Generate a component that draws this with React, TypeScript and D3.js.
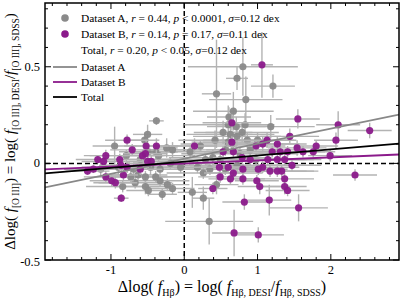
import * as d3 from 'd3'

// Dataset A (gray)
const aX = [0.80, 0.72, 1.21, 0.44, 0.84, 0.67, -0.38, -0.50, -0.54, -0.95, -0.24, 0.60, 0.53, 0.79, 0.72, 1.18, 0.65, 0.86, 0.08, 0.22, 0.29, 0.39, 0.72, 0.26, 0.11, 0.26, 0.34, 0.44, -0.79, -0.73, -0.63, -0.53, -0.39, -0.33, -0.23, -0.84, -0.67, -0.53, -0.49, -0.46, -0.33, -0.35, -0.39, -0.49, -0.05, -0.19, -0.60, -1.14, 0.56, 0.42, 0.90, 0.98, 0.49, 0.76, 0.60, 0.83, 0.61, 1.00, 0.18, 0.35, 0.56, -0.16, -0.69, -0.90, -0.30, -0.16, 0.63, 0.71]
const aY = [0.50, 0.44, 0.40, 0.36, 0.33, 0.27, 0.22, 0.15, 0.12, 0.09, 0.08, 0.20, 0.16, 0.16, 0.14, 0.19, 0.10, 0.12, 0.06, 0.09, 0.02, 0.03, -0.01, -0.05, -0.15, -0.18, -0.30, -0.11, 0.04, -0.07, -0.06, -0.07, -0.07, -0.09, -0.11, -0.12, -0.10, -0.12, -0.14, -0.02, -0.03, 0.04, 0.06, 0.06, -0.02, 0.00, 0.02, -0.03, 0.07, 0.12, 0.07, 0.02, 0.02, 0.05, 0.11, 0.20, 0.24, 0.12, -0.02, -0.03, -0.03, 0.07, -0.03, -0.02, -0.16, -0.13, 0.15, 0.19]
const aXerr = [0.75, 0.15, 0.30, 0.20, 0.50, 0.55, 0.10, 0.20, 0.20, 0.30, 0.15, 0.60, 0.40, 0.50, 0.60, 0.60, 0.70, 0.60, 0.80, 0.50, 0.80, 0.60, 0.90, 0.50, 0.20, 0.15, 0.60, 0.30, 0.50, 0.50, 0.40, 0.50, 0.40, 0.40, 0.30, 0.50, 0.50, 0.40, 0.30, 0.40, 0.50, 0.50, 0.30, 0.40, 0.60, 0.60, 0.60, 0.50, 0.70, 0.50, 0.60, 0.70, 0.80, 0.80, 0.50, 0.40, 0.30, 0.50, 0.80, 0.70, 0.70, 0.40, 0.40, 0.50, 0.20, 0.30, 0.60, 0.40]
const aYerr = [0.15, 0.06, 0.06, 0.28, 0.12, 0.10, 0.02, 0.05, 0.04, 0.10, 0.05, 0.10, 0.06, 0.05, 0.05, 0.06, 0.04, 0.04, 0.03, 0.03, 0.03, 0.04, 0.04, 0.03, 0.08, 0.06, 0.12, 0.05, 0.03, 0.03, 0.03, 0.03, 0.03, 0.03, 0.03, 0.03, 0.03, 0.04, 0.03, 0.04, 0.03, 0.03, 0.04, 0.03, 0.03, 0.03, 0.03, 0.04, 0.03, 0.05, 0.03, 0.03, 0.03, 0.03, 0.04, 0.06, 0.05, 0.04, 0.03, 0.03, 0.03, 0.04, 0.03, 0.04, 0.03, 0.03, 0.04, 0.05]

// Dataset B (purple)
const bX = [1.06, 1.55, 2.10, 2.53, 2.07, -0.78, -0.38, 0.65, 1.44, 1.13, 1.27, 1.07, 1.54, 1.80, 0.14, -0.71, -1.32, -1.18, -1.07, -1.10, -1.07, -0.99, -0.94, -0.86, -1.24, -0.88, -0.86, -0.78, -0.57, -0.53, -0.50, -0.45, -0.60, -0.83, -0.52, 2.33, 1.99, 1.76, 1.62, 1.31, 1.41, 1.14, 1.27, 1.37, 1.07, 1.17, 1.27, 1.33, 1.37, 1.37, 1.41, 1.16, 1.56, 0.53, 0.67, 0.79, 0.90, 0.48, 0.60, 0.80, 0.67, 1.01, 0.49, 0.63, 0.80, 0.99, 0.39, 1.03, 0.82, 0.68, 1.01, 1.20, 0.98, 0.65, 1.47]
const bY = [0.51, 0.23, 0.20, 0.17, 0.12, 0.12, 0.09, 0.21, 0.14, 0.12, 0.10, 0.10, 0.08, 0.09, 0.09, 0.07, -0.04, 0.02, 0.04, 0.01, -0.07, -0.09, -0.10, -0.18, -0.03, 0.02, -0.01, -0.02, 0.04, 0.05, 0.01, 0.01, -0.03, -0.06, 0.09, -0.06, 0.04, 0.06, 0.06, 0.06, 0.06, 0.02, 0.02, 0.02, -0.02, -0.04, -0.04, -0.04, -0.08, -0.12, -0.14, -0.19, -0.23, 0.06, 0.06, 0.03, 0.02, -0.02, -0.02, -0.03, -0.05, -0.03, -0.07, -0.08, -0.08, -0.09, -0.13, -0.12, -0.20, -0.36, -0.37, 0.06, 0.09, 0.11, -0.01]
const bXerr = [0.15, 0.30, 0.30, 0.30, 0.30, 0.30, 0.30, 0.40, 0.40, 0.40, 0.40, 0.50, 0.40, 0.30, 0.30, 0.30, 0.30, 0.30, 0.30, 0.30, 0.30, 0.30, 0.30, 0.10, 0.30, 0.30, 0.30, 0.30, 0.30, 0.30, 0.30, 0.30, 0.30, 0.20, 0.30, 0.30, 0.30, 0.30, 0.30, 0.40, 0.40, 0.50, 0.50, 0.50, 0.50, 0.50, 0.50, 0.50, 0.40, 0.30, 0.30, 0.30, 0.40, 0.40, 0.40, 0.40, 0.40, 0.40, 0.40, 0.40, 0.40, 0.40, 0.30, 0.30, 0.30, 0.30, 0.20, 0.30, 0.30, 0.30, 0.35, 0.40, 0.40, 0.40, 0.40]
const bYerr = [0.17, 0.05, 0.07, 0.04, 0.04, 0.03, 0.04, 0.04, 0.04, 0.04, 0.04, 0.04, 0.04, 0.03, 0.04, 0.03, 0.02, 0.02, 0.03, 0.02, 0.03, 0.03, 0.03, 0.02, 0.02, 0.03, 0.03, 0.03, 0.03, 0.03, 0.03, 0.03, 0.03, 0.03, 0.03, 0.03, 0.03, 0.03, 0.03, 0.03, 0.03, 0.03, 0.03, 0.03, 0.03, 0.03, 0.03, 0.03, 0.03, 0.04, 0.03, 0.08, 0.07, 0.03, 0.03, 0.03, 0.03, 0.03, 0.03, 0.03, 0.03, 0.03, 0.03, 0.03, 0.03, 0.03, 0.03, 0.04, 0.04, 0.12, 0.04, 0.03, 0.03, 0.03, 0.03]

// linear fits: Dataset A, Dataset B, Total
const fitNames = ['Dataset A', 'Dataset B', 'Total']
const fitSlopes = [0.078, 0.016, 0.032]
const fitIntercepts = [0.024, -0.001, 0.009]
const fitColors = ['#888888', '#8b1a8b', '#000000']

const xTicks = [-1, 0, 1, 2]
const yTicks = [-0.5, 0, 0.5]

const W = 404
const H = 301
const margin = { top: 3, right: 5, bottom: 41, left: 45 }
const serif = "'Liberation Serif', 'DejaVu Serif', serif"
const GRAY = '#8a8a8a'
const PURPLE = '#8b1a8b'
const ERR = '#b3b3b3'

export default function App() {
  const iw = W - margin.left - margin.right
  const ih = H - margin.top - margin.bottom
  const x = d3.scaleLinear().domain([-1.9, 2.93]).range([0, iw])
  const y = d3.scaleLinear().domain([-0.5, 0.83]).range([ih, 0])

  const minorX = d3.range(-1.8, 2.95, 0.2).map(v => +v.toFixed(2))
  const minorY = d3.range(-0.5, 0.84, 0.1).map(v => +v.toFixed(2))

  const sets = [
    { xs: aX, ys: aY, xe: aXerr, ye: aYerr, color: GRAY },
    { xs: bX, ys: bY, xe: bXerr, ye: bYerr, color: PURPLE },
  ]

  return (
    <svg width={W} height={H} style={{ position: 'fixed', left: 0, top: 0, background: '#fff' }} fontFamily={serif}>
      <defs>
        <clipPath id="plotclip">
          <rect x={0} y={0} width={iw} height={ih} />
        </clipPath>
      </defs>
      <g transform={`translate(${margin.left},${margin.top})`}>
        <g clipPath="url(#plotclip)">
          {/* zero lines */}
          <line x1={0} x2={iw} y1={y(0)} y2={y(0)} stroke="#000" strokeWidth={1.5} strokeDasharray="5,3" />
          <line x1={x(0)} x2={x(0)} y1={0} y2={ih} stroke="#000" strokeWidth={1.5} strokeDasharray="5,3" />

          {sets.map((s, k) => (
            <g key={k}>
              {s.xs.map((xv, i) => (
                <g key={i} stroke={ERR} strokeWidth={1.4}>
                  <line x1={x(xv - s.xe[i])} x2={x(xv + s.xe[i])} y1={y(s.ys[i])} y2={y(s.ys[i])} />
                  <line x1={x(xv)} x2={x(xv)} y1={y(s.ys[i] - s.ye[i])} y2={y(s.ys[i] + s.ye[i])} />
                </g>
              ))}
              {s.xs.map((xv, i) => (
                <circle key={'c' + i} cx={x(xv)} cy={y(s.ys[i])} r={3.6} fill={s.color} opacity={0.95} />
              ))}
            </g>
          ))}

          {fitSlopes.map((m, k) => {
            const d = x.domain()
            return (
              <line key={k} x1={x(d[0])} x2={x(d[1])}
                y1={y(fitIntercepts[k] + m * d[0])} y2={y(fitIntercepts[k] + m * d[1])}
                stroke={fitColors[k]} strokeWidth={1.8} />
            )
          })}
        </g>

        {/* ticks, all four sides, pointing inward */}
        {minorX.map(v => (
          <g key={'mx' + v} stroke="#000" strokeWidth={1}>
            <line x1={x(v)} x2={x(v)} y1={ih} y2={ih - (xTicks.includes(v) ? 6 : 3)} />
            <line x1={x(v)} x2={x(v)} y1={0} y2={xTicks.includes(v) ? 6 : 3} />
          </g>
        ))}
        {minorY.map(v => (
          <g key={'my' + v} stroke="#000" strokeWidth={1}>
            <line x1={0} x2={yTicks.includes(v) ? 6 : 3} y1={y(v)} y2={y(v)} />
            <line x1={iw} x2={iw - (yTicks.includes(v) ? 6 : 3)} y1={y(v)} y2={y(v)} />
          </g>
        ))}
        <rect x={0} y={0} width={iw} height={ih} fill="none" stroke="#000" strokeWidth={1.5} />

        {xTicks.map(v => (
          <text key={'xt' + v} x={x(v)} y={ih + 14} textAnchor="middle" fontSize={12.5}>{v}</text>
        ))}
        {yTicks.map(v => (
          <text key={'yt' + v} x={-5} y={y(v) + (v === -0.5 ? 6 : 4)} textAnchor="end" fontSize={12.5}>{v}</text>
        ))}

        {/* legend */}
        <g fontSize={11.4}>
          <circle cx={20} cy={15} r={3.8} fill={GRAY} />
          <text x={36} y={19}>Dataset A, <tspan fontStyle="italic">r</tspan> = 0.44, <tspan fontStyle="italic">p</tspan> &lt; 0.0001, <tspan fontStyle="italic">σ</tspan>=0.12 dex</text>
          <circle cx={20} cy={31} r={3.8} fill={PURPLE} />
          <text x={36} y={35}>Dataset B, <tspan fontStyle="italic">r</tspan> = 0.14, <tspan fontStyle="italic">p</tspan> = 0.17, <tspan fontStyle="italic">σ</tspan>=0.11 dex</text>
          <text x={36} y={51}>Total, <tspan fontStyle="italic">r</tspan> = 0.20, <tspan fontStyle="italic">p</tspan> &lt;  0.05, <tspan fontStyle="italic">σ</tspan>=0.12 dex</text>
          {fitNames.map((n, k) => (
            <g key={n}>
              <line x1={8} x2={32} y1={64 + k * 15} y2={64 + k * 15} stroke={fitColors[k]} strokeWidth={1.8} />
              <text x={36} y={68 + k * 15}>{n}</text>
            </g>
          ))}
        </g>
      </g>

      {/* axis labels */}
      <text x={margin.left + iw / 2} y={292} textAnchor="middle" fontSize={16}>
        Δlog( <tspan fontStyle="italic">f</tspan><tspan fontSize={10} dy={4}>Hβ</tspan><tspan dy={-4}>) = log( </tspan>
        <tspan fontStyle="italic">f</tspan><tspan fontSize={10} dy={4}>Hβ, DESI</tspan><tspan dy={-4}>/</tspan>
        <tspan fontStyle="italic">f</tspan><tspan fontSize={10} dy={4}>Hβ, SDSS</tspan><tspan dy={-4}>)</tspan>
      </text>
      <text transform={`translate(15,${margin.top + ih / 2}) rotate(-90)`} textAnchor="middle" fontSize={15}>
        Δlog( <tspan fontStyle="italic">f</tspan><tspan fontSize={9.5} dy={4}>[O III]</tspan><tspan dy={-4}>) = log( </tspan>
        <tspan fontStyle="italic">f</tspan><tspan fontSize={9.5} dy={4}>[O III], DESI</tspan><tspan dy={-4}>/</tspan>
        <tspan fontStyle="italic">f</tspan><tspan fontSize={9.5} dy={4}>[O III], SDSS</tspan><tspan dy={-4}>)</tspan>
      </text>
    </svg>
  )
}
